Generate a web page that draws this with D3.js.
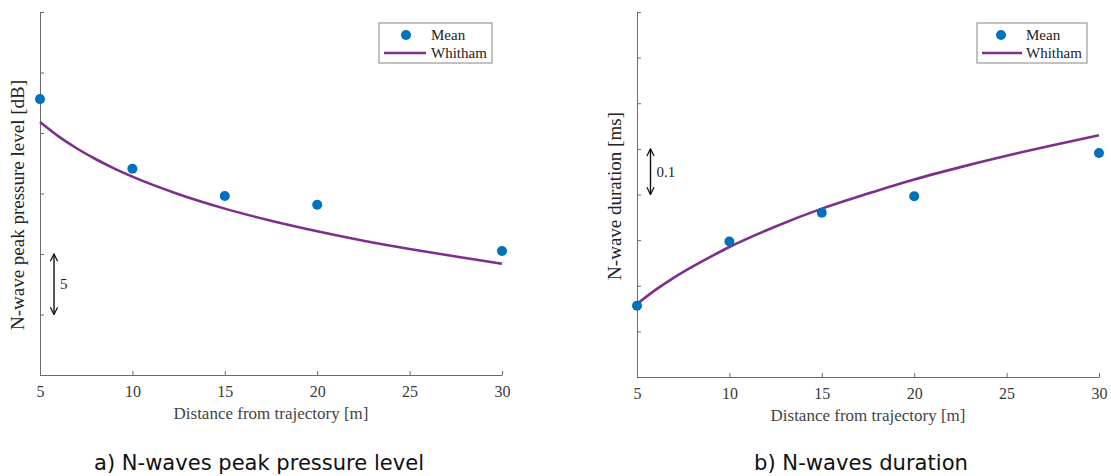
<!DOCTYPE html>
<html>
<head>
<meta charset="utf-8">
<script src="https://cdn.jsdelivr.net/npm/d3@7"></script>
<style>
  html, body { margin: 0; padding: 0; background: #fff; }
  svg { display: block; }
  .tick text { font-family: "Liberation Serif", "Times New Roman", serif; font-size: 16px; fill: #3a3a3a; }
  .axis path, .axis line { stroke: #6b6b6b; stroke-width: 1; }
</style>
</head>
<body>
<svg id="fig" width="1111" height="476"></svg>
<script>
// Distances from the trajectory [m]
const meanDistances = [5, 10, 15, 20, 30];
const modelDistances = [5, 6, 7, 8, 9, 10, 12.5, 15, 17.5, 20, 22.5, 25, 27.5, 30];
const xTicks = [5, 10, 15, 20, 25, 30];

// a) Peak pressure level [dB]
const levelMean = [152.8, 147.05, 144.8, 144.07, 140.25];
const levelWhitham = [150.9, 149.72, 148.72, 147.85, 147.08, 146.39, 144.94, 143.75, 142.75, 141.88, 141.1, 140.42, 139.8, 139.2];
const levelTicks = [130, 135, 140, 145, 150, 155, 160];
const levelScaleBar = [140, 135];

// b) Duration [ms]
const durationMean = [0.656, 0.797, 0.860, 0.896, 0.991];
const durationWhitham = [0.660, 0.691, 0.718, 0.742, 0.764, 0.785, 0.830, 0.869, 0.902, 0.933, 0.960, 0.985, 1.008, 1.030];
const durationTicks = [0.5, 0.6, 0.7, 0.8, 0.9, 1.0, 1.1, 1.2, 1.3];
const durationScaleBar = [1.0, 0.9];

const legendLabels = ["Mean", "Whitham"];
const captions = ["a) N-waves peak pressure level", "b) N-waves duration"];
const yLabels = ["N-wave peak pressure level [dB]", "N-wave duration [ms]"];
const xLabel = "Distance from trajectory [m]";

const BLUE = "#0072BD";
const PURPLE = "#7E2F8E";
const serif = "'Liberation Serif', 'Times New Roman', serif";

const svg = d3.select("#fig");

// Arrowhead used by the scale bars
const defs = svg.append("defs");
defs.append("marker")
  .attr("id", "arrowhead")
  .attr("viewBox", "0 0 10 10")
  .attr("refX", 9).attr("refY", 5)
  .attr("markerWidth", 9).attr("markerHeight", 9)
  .attr("markerUnits", "userSpaceOnUse")
  .attr("orient", "auto-start-reverse")
  .append("path")
  .attr("d", "M1,1 L9,5 L1,9")
  .attr("fill", "none")
  .attr("stroke", "#111")
  .attr("stroke-width", 1.4);

function panel(cfg) {
  const g = svg.append("g");
  const x = d3.scaleLinear().domain([5, 30]).range([cfg.left, cfg.right]);
  const y = d3.scaleLinear().domain(cfg.yDomain).range([cfg.bottom, cfg.top]);

  // Axes with inward ticks, no tick labels on y
  g.append("g")
    .attr("class", "axis")
    .attr("transform", `translate(0,${cfg.bottom})`)
    .call(d3.axisBottom(x).tickValues(xTicks).tickSize(-4).tickSizeOuter(0).tickPadding(11));
  g.append("g")
    .attr("class", "axis")
    .attr("transform", `translate(${cfg.left},0)`)
    .call(d3.axisLeft(y).tickValues(cfg.yTicks).tickSize(-4).tickSizeOuter(0).tickFormat(""));

  // Axis titles
  g.append("text")
    .attr("x", (cfg.left + cfg.right) / 2)
    .attr("y", cfg.bottom + 44)
    .attr("text-anchor", "middle")
    .attr("font-family", serif).attr("font-size", 17).attr("fill", "#444")
    .text(xLabel);
  g.append("text")
    .attr("transform", `translate(${cfg.yLabelX},${cfg.yLabelY}) rotate(-90)`)
    .attr("text-anchor", "middle")
    .attr("font-family", serif).attr("font-size", 19).attr("fill", "#222")
    .text(cfg.yLabel);

  // Whitham model curve
  const line = d3.line()
    .x((d, i) => x(modelDistances[i]))
    .y(d => y(d))
    .curve(d3.curveMonotoneX);
  g.append("path")
    .datum(cfg.model)
    .attr("d", line)
    .attr("fill", "none")
    .attr("stroke", PURPLE)
    .attr("stroke-width", 2.6);

  // Measured means
  g.selectAll("circle.mean")
    .data(cfg.mean)
    .join("circle")
    .attr("class", "mean")
    .attr("cx", (d, i) => x(meanDistances[i]))
    .attr("cy", d => y(d))
    .attr("r", 5)
    .attr("fill", BLUE);

  // Vertical scale bar
  g.append("line")
    .attr("x1", cfg.barX).attr("x2", cfg.barX)
    .attr("y1", y(cfg.bar[0])).attr("y2", y(cfg.bar[1]))
    .attr("stroke", "#111").attr("stroke-width", 1.4)
    .attr("marker-start", "url(#arrowhead)")
    .attr("marker-end", "url(#arrowhead)");
  g.append("text")
    .attr("x", cfg.barX + 6)
    .attr("y", (y(cfg.bar[0]) + y(cfg.bar[1])) / 2 + 5)
    .attr("font-family", serif).attr("font-size", 15).attr("fill", "#222")
    .text(cfg.barLabel);

  // Legend
  const lg = g.append("g").attr("transform", `translate(${cfg.legendX},23)`);
  lg.append("rect")
    .attr("width", cfg.legendW).attr("height", 40)
    .attr("fill", "#fff").attr("stroke", "#9a9a9a").attr("stroke-width", 1.2);
  lg.append("circle").attr("cx", cfg.legendDot).attr("cy", 12).attr("r", 5).attr("fill", BLUE);
  lg.append("line")
    .attr("x1", 5).attr("x2", cfg.legendLineEnd)
    .attr("y1", 30).attr("y2", 30)
    .attr("stroke", PURPLE).attr("stroke-width", 2.6);
  lg.selectAll("text.leg")
    .data(legendLabels)
    .join("text")
    .attr("class", "leg")
    .attr("x", cfg.legendText)
    .attr("y", (d, i) => 17 + i * 18)
    .attr("font-family", serif).attr("font-size", 15).attr("fill", "#222")
    .text(d => d);

  // Caption
  svg.append("text")
    .attr("x", cfg.captionX)
    .attr("y", 470)
    .attr("text-anchor", "middle")
    .attr("font-family", "'DejaVu Sans', sans-serif")
    .attr("font-size", 22)
    .attr("textLength", cfg.captionW)
    .attr("lengthAdjust", "spacingAndGlyphs")
    .attr("fill", "#111")
    .text(cfg.caption);
}

panel({
  left: 40, right: 502, top: 12, bottom: 375,
  yDomain: [130, 160], yTicks: levelTicks,
  mean: levelMean, model: levelWhitham,
  yLabel: yLabels[0], yLabelX: 24, yLabelY: 205,
  bar: levelScaleBar, barX: 54, barLabel: "5",
  legendX: 379, legendW: 113, legendDot: 27, legendLineEnd: 47, legendText: 52,
  caption: captions[0], captionX: 259, captionW: 330
});

panel({
  left: 637, right: 1099, top: 12, bottom: 377,
  yDomain: [0.5, 1.3], yTicks: durationTicks,
  mean: durationMean, model: durationWhitham,
  yLabel: yLabels[1], yLabelX: 621, yLabelY: 196,
  bar: durationScaleBar, barX: 650.5, barLabel: "0.1",
  legendX: 977, legendW: 110, legendDot: 24, legendLineEnd: 45, legendText: 49,
  caption: captions[1], captionX: 861, captionW: 214
});
</script>
</body>
</html>
